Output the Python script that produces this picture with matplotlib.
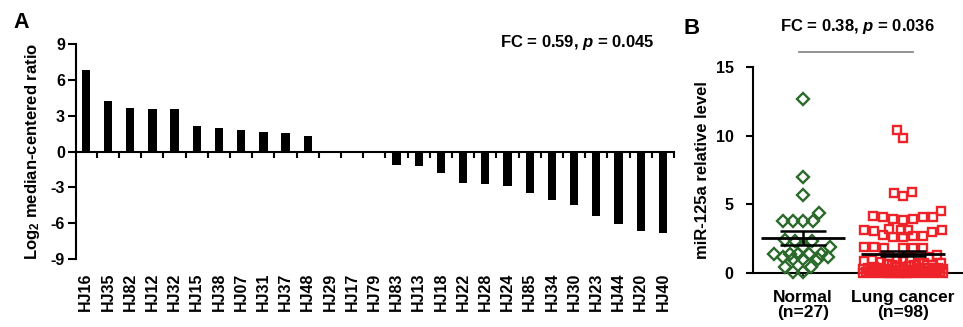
import numpy as np
import matplotlib
matplotlib.use("Agg")
import matplotlib.pyplot as plt

plt.rcParams['font.family'] = ['Liberation Sans', 'DejaVu Sans']
plt.rcParams['font.weight'] = 'bold'
plt.rcParams['axes.linewidth'] = 1.5
plt.rcParams['axes.unicode_minus'] = False
plt.rcParams['mathtext.fontset'] = 'custom'
plt.rcParams['mathtext.rm'] = 'Liberation Sans:bold'
plt.rcParams['mathtext.bf'] = 'Liberation Sans:bold'
plt.rcParams['mathtext.it'] = 'Liberation Sans:bold:italic'

# panel A: log2 median-centered ratio per sample
samples = ['HJ16', 'HJ35', 'HJ82', 'HJ12', 'HJ32', 'HJ15', 'HJ38', 'HJ07', 'HJ31',
           'HJ37', 'HJ48', 'HJ29', 'HJ17', 'HJ79', 'HJ83', 'HJ13', 'HJ18', 'HJ22',
           'HJ28', 'HJ24', 'HJ85', 'HJ34', 'HJ30', 'HJ23', 'HJ44', 'HJ20', 'HJ40']
ratios = [6.85, 4.25, 3.62, 3.58, 3.58, 2.12, 1.93, 1.78, 1.67, 1.55, 1.3, 0.0,
          0.0, 0.0, -1.17, -1.22, -1.8, -2.62, -2.7, -2.87, -3.47, -4.08, -4.47,
          -5.42, -6.1, -6.65, -6.86]

# panel B: miR-125a relative level
groups = ['Normal\n(n=27)', 'Lung cancer\n(n=98)']
normal = [12.7, 7.0, 5.7, 4.4, 3.8, 3.8, 3.8, 3.8, 2.4, 2.3, 2.3, 1.9, 1.9,
          1.4, 1.4, 1.4, 1.4, 1.4, 1.2, 1.2, 1.0, 1.0, 1.0, 0.45, 0.45, 0.05, 0.05]
cancer = [10.4, 9.8, 5.9, 5.85, 5.6, 4.5,
          4.15, 4.1, 4.05, 4.1, 3.9, 3.85, 3.9,
          3.15, 3.1, 3.05, 3.1, 3.0, 3.1, 3.2,
          2.75, 2.7, 2.6, 2.65, 2.7,
          1.9, 1.85, 1.8, 1.85, 1.9, 1.8,
          1.3, 1.25, 1.2, 1.1, 1.0, 0.95, 0.9, 0.85, 0.8, 0.75,
          0.7, 0.7, 0.65, 0.6, 0.6, 0.55, 0.5, 0.5, 0.45, 0.45,
          0.4, 0.4, 0.4, 0.35, 0.35, 0.3, 0.3, 0.3, 0.3, 0.25,
          0.25, 0.25, 0.2, 0.2, 0.2, 0.2, 0.15, 0.15, 0.15, 0.15,
          0.12, 0.12, 0.1, 0.1, 0.1, 0.1, 0.08, 0.08, 0.06, 0.06,
          0.05, 0.05, 0.05, 0.04, 0.04, 0.03, 0.03, 0.03, 0.02, 0.02,
          0.02, 0.01, 0.01, 0.01, 0.01, 0.0, 0.0]


def swarm(vals, d_px, xscale, yscale, cap_px):
    """beeswarm offsets (data units), squeezing points together past cap_px"""
    vals = np.asarray(vals, dtype=float)
    offs = np.zeros(len(vals))
    placed = []
    for i in np.argsort(vals, kind='stable'):
        y = vals[i] * yscale
        dd = d_px
        while True:
            cands = [0.0]
            for px, py in placed:
                dy = abs(py - y)
                if dy < dd:
                    dx = np.sqrt(dd ** 2 - dy ** 2)
                    cands += [px - dx, px + dx]
            cands.sort(key=abs)
            ok = None
            for c in cands:
                if abs(c) > cap_px:
                    break
                if all((c - px) ** 2 + (y - py) ** 2 >= dd ** 2 - 1e-6 for px, py in placed):
                    ok = c
                    break
            if ok is not None:
                break
            dd *= 0.85
        placed.append((ok, y))
        offs[i] = ok / xscale
    return offs


W, H = 963, 327
fig = plt.figure(figsize=(W / 100, H / 100), dpi=100)

# ---- panel A ----
axA = fig.add_axes([76 / W, 1 - 259 / H, 598 / W, 215 / H])
x = np.arange(len(samples))
axA.bar(x, ratios, width=0.375, color='black')
axA.set_xlim(-0.44, len(samples) - 0.5)
axA.set_ylim(-9, 9)
axA.set_yticks(np.arange(-9, 10, 3))
axA.spines['top'].set_visible(False)
axA.spines['right'].set_visible(False)
axA.spines['bottom'].set_position(('data', 0))
axA.set_xticks(x + 0.5)
axA.set_xticklabels([])
axA.tick_params(axis='x', length=4, width=1.5, direction='out')
axA.tick_params(axis='y', length=6, width=1.5, direction='out', pad=2, labelsize=11.5)
for xi, s in zip(x, samples):
    axA.text(xi, -0.063, s, transform=axA.get_xaxis_transform(), rotation=90,
             ha='center', va='top', fontsize=11.5, fontweight='bold')
axA.set_ylabel('Log$_\\mathrm{2}$ median-centered ratio', fontsize=12, fontweight='bold', labelpad=6)
fig.text(655 / W, 1 - 43 / H, 'FC = 0.59, $p$ = 0.045', ha='right', va='center',
         fontsize=12, fontweight='bold')
fig.text(21 / W, 1 - 22.5 / H, 'A', ha='center', va='center', fontsize=15.5, fontweight='bold')

# ---- panel B ----
axB = fig.add_axes([753 / W, 1 - 273 / H, 210 / W, 206 / H])
axB.set_xlim(-0.5, 1.6)
axB.set_ylim(0, 15)
xs_px = 100.0
ys_px = 206 / 15.0
n_off = swarm(normal, 10, xs_px, ys_px, 31)
c_off = swarm(cancer, 10, xs_px, ys_px, 40)
axB.plot(0 + n_off, normal, ls='none', marker='D', ms=6.3, mfc='none', mec='#2b6a2b',
         mew=1.7, clip_on=False, zorder=3)
axB.plot(1 + c_off, cancer, ls='none', marker='s', ms=6, mfc='none', mec='#ee2229',
         mew=1.7, clip_on=False, zorder=3)
for gi, vals in enumerate([normal, cancer]):
    v = np.asarray(vals)
    m = v.mean()
    sem = v.std(ddof=1) / np.sqrt(len(v))
    axB.hlines(m, gi - 0.42, gi + 0.42, color='black', lw=2, zorder=5)
    axB.hlines([m - sem, m + sem], gi - 0.23, gi + 0.23, color='black', lw=1.8, zorder=5)
    axB.vlines(gi, m - sem, m + sem, color='black', lw=1.8, zorder=5)
axB.set_xticks([0, 1])
axB.set_xticklabels(groups, fontsize=12.5, fontweight='bold', linespacing=1.0)
axB.set_yticks([0, 5, 10, 15])
axB.spines['top'].set_visible(False)
axB.spines['right'].set_visible(False)
axB.tick_params(axis='x', length=2, width=1.2, pad=10)
axB.tick_params(axis='y', length=5, width=1.5, pad=9, labelsize=11.5)
axB.set_ylabel('miR-125a relative level', fontsize=12, fontweight='bold', labelpad=4)
fig.text(857 / W, 1 - 27 / H, 'FC = 0.38, $p$ = 0.036', ha='center', va='center',
         fontsize=12, fontweight='bold')
fig.add_artist(plt.Line2D([799 / W, 913 / W], [1 - 52 / H, 1 - 52 / H], color='#808080', lw=1.2))
fig.text(692 / W, 1 - 28.7 / H, 'B', ha='center', va='center', fontsize=16, fontweight='bold')

fig.savefig('out.png', dpi=100)
